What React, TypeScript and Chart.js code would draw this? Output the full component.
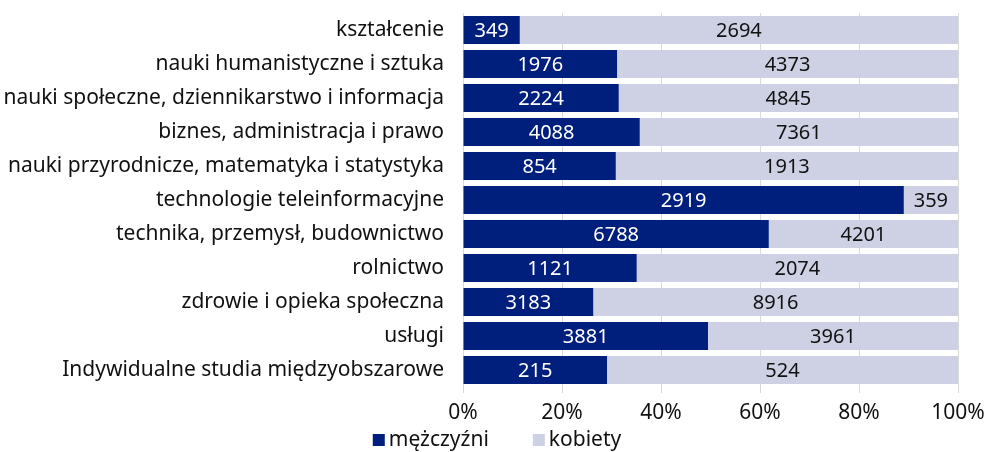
import React, { useEffect, useRef } from "react";
import { Chart, registerables } from "chart.js";

Chart.register(...registerables);

const categories = [
  "kształcenie",
  "nauki humanistyczne i sztuka",
  "nauki społeczne, dziennikarstwo i informacja",
  "biznes, administracja i prawo",
  "nauki przyrodnicze, matematyka i statystyka",
  "technologie teleinformacyjne",
  "technika, przemysł, budownictwo",
  "rolnictwo",
  "zdrowie i opieka społeczna",
  "usługi",
  "Indywidualne studia międzyobszarowe",
];

const men = [349, 1976, 2224, 4088, 854, 2919, 6788, 1121, 3183, 3881, 215];
const women = [2694, 4373, 4845, 7361, 1913, 359, 4201, 2074, 8916, 3961, 524];

const seriesNames = ["mężczyźni", "kobiety"];
const xTicks = [0, 20, 40, 60, 80, 100];

const DARK = "#001e7b";
const LIGHT = "#cdd1e3";
const FONT = "'Noto Sans', sans-serif";

const labelPlugin = {
  id: "segLabels",
  afterDatasetsDraw(chart: any) {
    const ctx = chart.ctx;
    ctx.save();
    ctx.font = `20px ${FONT}`;
    ctx.textAlign = "center";
    ctx.textBaseline = "middle";
    chart.data.datasets.forEach((ds: any, di: number) => {
      const meta = chart.getDatasetMeta(di);
      meta.data.forEach((bar: any, i: number) => {
        const left = Math.min(bar.x, bar.base);
        const right = Math.max(bar.x, bar.base);
        ctx.fillStyle = di === 0 ? "#ffffff" : "#111111";
        ctx.fillText(String(ds.raw[i]), (left + right) / 2, bar.y + 1);
      });
    });
    ctx.restore();
  },
};

const legendPlugin = {
  id: "customLegend",
  afterDraw(chart: any) {
    const ctx = chart.ctx;
    ctx.save();
    ctx.font = `21px ${FONT}`;
    ctx.textBaseline = "middle";
    ctx.textAlign = "left";
    const box = 12;
    const gapText = 4;
    const gapItem = 44;
    const ds = chart.data.datasets;
    const widths = ds.map((d: any) => ctx.measureText(d.label).width);
    let total = 0;
    widths.forEach((w: number, i: number) => {
      total += box + gapText + w + (i < widths.length - 1 ? gapItem : 0);
    });
    let x = 497 - total / 2;
    const y = 440;
    ds.forEach((d: any, i: number) => {
      ctx.fillStyle = d.backgroundColor;
      ctx.fillRect(x, y - box / 2, box, box);
      x += box + gapText;
      ctx.fillStyle = "#111111";
      ctx.fillText(d.label, x, y);
      x += widths[i] + gapItem;
    });
    ctx.restore();
  },
};

export default function App() {
  const ref = useRef<HTMLCanvasElement>(null);
  useEffect(() => {
    const totals = men.map((m, i) => m + women[i]);
    const chart = new Chart(ref.current!, {
      type: "bar",
      data: {
        labels: categories,
        datasets: [
          {
            label: seriesNames[0],
            data: men.map((m, i) => (m / totals[i]) * 100),
            raw: men,
            backgroundColor: DARK,
            barPercentage: 0.82,
            categoryPercentage: 1,
          } as any,
          {
            label: seriesNames[1],
            data: women.map((w, i) => (w / totals[i]) * 100),
            raw: women,
            backgroundColor: LIGHT,
            barPercentage: 0.82,
            categoryPercentage: 1,
          } as any,
        ],
      },
      options: {
        indexAxis: "y",
        animation: false,
        responsive: false,
        maintainAspectRatio: false,
        layout: { padding: { top: 13, right: 29, left: 0, bottom: 0 } },
        scales: {
          x: {
            stacked: true,
            min: 0,
            max: 100,
            afterBuildTicks(scale: any) {
              scale.ticks = xTicks.map((v) => ({ value: v }));
            },
            afterFit(scale: any) {
              scale.height = 65;
              scale.paddingLeft = 0;
              scale.paddingRight = 0;
            },
            grid: {
              color: "#d9d9d9",
              lineWidth: 1,
              drawTicks: true,
              tickLength: 6,
            },
            border: { display: false },
            ticks: {
              color: "#111111",
              font: { size: 21, family: FONT },
              padding: 7,
              maxRotation: 0,
              callback: (v: any) => v + "%",
            },
          },
          y: {
            stacked: true,
            grid: { display: false, drawTicks: false },
            border: { display: false },
            afterFit(scale: any) {
              scale.width = 463;
              scale.paddingTop = 0;
              scale.paddingBottom = 0;
            },
            ticks: {
              color: "#111111",
              font: { size: 21, family: FONT },
              padding: 19,
              autoSkip: false,
            },
          },
        },
        plugins: {
          legend: { display: false },
          tooltip: { enabled: false },
        },
      },
      plugins: [labelPlugin, legendPlugin],
    });
    return () => chart.destroy();
  }, []);
  return (
    <div style={{ position: "fixed", left: 0, top: 0, width: 987, height: 452, background: "#fff" }}>
      <canvas ref={ref} width={987} height={452} style={{ width: 987, height: 452 }} />
    </div>
  );
}
